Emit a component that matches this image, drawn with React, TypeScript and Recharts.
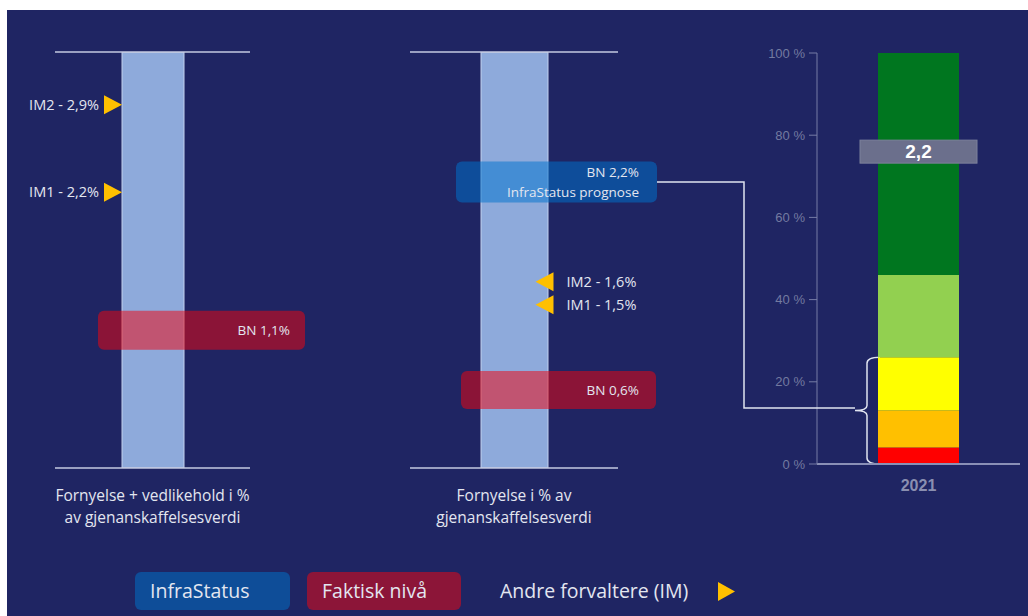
import React from 'react'
import {
  ComposedChart,
  Bar,
  XAxis,
  YAxis,
  Scatter,
  ReferenceLine,
  ReferenceArea,
} from 'recharts'

// venstre panel: fornyelse + vedlikehold
const p1Max = 3.32
const p1Markers = [
  { value: 2.9, text: 'IM2 - 2,9%' },
  { value: 2.2, text: 'IM1 - 2,2%' },
]
const p1Actual = [{ value: 1.1, text: 'BN 1,1%' }]
const p1Caption = ['Fornyelse + vedlikehold i %', 'av gjenanskaffelsesverdi']

// midtre panel: fornyelse
const p2Max = 3.2
// IM-pilene står på en egen (skjult) skala i originalen
const p2MarkerDomain = [0.79, 2.6]
const p2Markers = [
  { value: 1.6, text: 'IM2 - 1,6%' },
  { value: 1.5, text: 'IM1 - 1,5%' },
]
const p2Actual = [{ value: 0.6, text: 'BN 0,6%' }]
const p2Forecast = [{ value: 2.2, text: 'BN 2,2%', sub: 'InfraStatus prognose' }]
const p2Caption = ['Fornyelse i % av', 'gjenanskaffelsesverdi']

// høyre: tilstandsfordeling
const years = ['2021']
const redShare = [4]
const orangeShare = [9]
const yellowShare = [13]
const lightGreenShare = [20]
const darkGreenShare = [54]
const scorePos = [76]
const scoreText = ['2,2']
const yTicks = [0, 20, 40, 60, 80, 100]

const NAVY = '#1f2563'
const TXT = '#e3e6f0'
const FONT = '"Open Sans", "Noto Sans", sans-serif'

const stackData = years.map((y, i) => ({
  year: y,
  red: redShare[i],
  orange: orangeShare[i],
  yellow: yellowShare[i],
  lgreen: lightGreenShare[i],
  dgreen: darkGreenShare[i],
}))
const scoreData = years.map((y, i) => ({ year: y, pos: scorePos[i], text: scoreText[i] }))

const tri = (tipX: number, cy: number, dir: number) =>
  `${tipX - dir * 18},${cy - 9.5} ${tipX - dir * 18},${cy + 9.5} ${tipX},${cy}`

const Panel = ({ left, width, plotLeft, plotRight, max, markerDomain, barSize, markers, side, actual, forecast, caption }: any) => {
  const rows = [{ name: 'p', full: max }]
  const named = (arr: any[]) => arr.map((d) => ({ ...d, name: 'p' }))
  const half = barSize / 2

  const markerShape = (props: any) => {
    const { cx, cy, payload } = props
    if (side === 'left') {
      const tip = cx - half + 0.5
      return (
        <g>
          <polygon points={tri(tip, cy, 1)} fill="#ffc000" />
          <text x={tip - 23} y={cy} dy="0.35em" textAnchor="end" fill={TXT} fontSize={14.5} fontFamily={FONT}>
            {payload.text}
          </text>
        </g>
      )
    }
    const tip = cx + half - 12
    return (
      <g>
        <polygon points={tri(tip, cy, -1)} fill="#ffc000" />
        <text x={tip + 31} y={cy} dy="0.35em" fill={TXT} fontSize={14.5} fontFamily={FONT}>
          {payload.text}
        </text>
      </g>
    )
  }

  const boxShape = (color: string, x0: number, w: number, h: number, textEnd: number) => (props: any) => {
    const { cx, cy, payload } = props
    return (
      <g>
        <rect x={cx + x0} y={cy - h / 2} width={w} height={h} rx={6} fill={color} fillOpacity={0.52} />
        {payload.sub ? (
          <>
            <text x={cx + textEnd} y={cy - 10} dy="0.35em" textAnchor="end" fill={TXT} fontSize={13.5} fontFamily={FONT}>
              {payload.text}
            </text>
            <text x={cx + textEnd} y={cy + 10} dy="0.35em" textAnchor="end" fill={TXT} fontSize={13.5} fontFamily={FONT}>
              {payload.sub}
            </text>
          </>
        ) : (
          <text x={cx + textEnd} y={cy} dy="0.35em" textAnchor="end" fill={TXT} fontSize={13.5} fontFamily={FONT}>
            {payload.text}
          </text>
        )}
      </g>
    )
  }

  const centre = left + plotLeft + (plotRight - plotLeft) / 2
  return (
    <>
      <div style={{ position: 'absolute', left, top: 30 }}>
        <ComposedChart
          width={width}
          height={440}
          data={rows}
          margin={{ top: 22, bottom: 2, left: plotLeft, right: width - plotRight }}
        >
          <XAxis dataKey="name" hide allowDuplicatedCategory={false} />
          <YAxis type="number" domain={[0, max]} hide allowDataOverflow />
          <YAxis yAxisId="im" type="number" domain={markerDomain || [0, max]} hide allowDataOverflow />
          <Bar dataKey="full" barSize={barSize} fill="#8eaadb" stroke="#c3d1ee" strokeWidth={1} isAnimationActive={false} />
          <ReferenceLine y={max} stroke="#c5cae0" strokeWidth={1.5} />
          <ReferenceLine y={0} stroke="#c5cae0" strokeWidth={1.5} />
          <Scatter yAxisId="im" data={named(markers)} dataKey="value" shape={markerShape} isAnimationActive={false} />
          <Scatter
            data={named(actual)}
            dataKey="value"
            shape={side === 'left' ? boxShape('#f0050f', -54.5, 207, 39, 137.5) : boxShape('#f0050f', -53, 195, 38, 125)}
            isAnimationActive={false}
          />
          {forecast && (
            <Scatter
              data={named(forecast)}
              dataKey="value"
              shape={boxShape('#0073cd', -58, 201, 41, 125)}
              isAnimationActive={false}
            />
          )}
        </ComposedChart>
      </div>
      {caption.map((c: string, i: number) => (
        <div
          key={c}
          style={{
            position: 'absolute',
            left: centre - 150,
            width: 300,
            top: 485 + i * 22,
            textAlign: 'center',
            color: TXT,
            fontSize: 15.5,
            fontFamily: FONT,
            lineHeight: '20px',
          }}
        >
          {c}
        </div>
      ))}
    </>
  )
}

const braceShape = (props: any) => {
  const { x, y, height } = props
  const bx = x + 50
  const top = y
  const bot = y + height
  const mid = (top + bot) / 2
  const d = `M${bx + 13},${top} Q${bx},${top} ${bx},${top + 6} L${bx},${mid - 5} Q${bx},${mid} ${bx - 12},${mid} Q${bx},${mid} ${bx},${mid + 5} L${bx},${bot - 6} Q${bx},${bot} ${bx + 13},${bot}`
  return <path d={d} fill="none" stroke="#e0e4f0" strokeWidth={1.5} />
}

const scoreShape = (props: any) => {
  const { cx, cy, payload } = props
  return (
    <g>
      <rect x={cx - 58.5} y={cy - 11.5} width={117} height={23} fill="#6b6f8c" stroke="#7d819c" strokeWidth={1} />
      <text x={cx} y={cy} dy="0.36em" textAnchor="middle" fill="#ffffff" fontSize={19} fontWeight="bold" fontFamily='"Liberation Sans", Arial, sans-serif'>
        {payload.text}
      </text>
    </g>
  )
}

const legendBox = (left: number, width: number, bg: string, text: string) => (
  <div
    style={{
      position: 'absolute',
      left,
      top: 572,
      width,
      height: 38,
      borderRadius: 6,
      background: bg,
      color: TXT,
      fontFamily: FONT,
      fontSize: 19.5,
      lineHeight: '38px',
      paddingLeft: 15,
      boxSizing: 'border-box',
    }}
  >
    {text}
  </div>
)

export default function App() {
  return (
    <div style={{ position: 'relative', width: 1028, height: 616, background: '#fff', overflow: 'hidden' }}>
      <style>{'body{margin:0}'}</style>
      <div style={{ position: 'absolute', left: 7, top: 10, right: 0, bottom: 0, background: NAVY }} />

      <Panel
        left={0}
        width={330}
        plotLeft={55}
        plotRight={250}
        max={p1Max}
        barSize={62}
        markers={p1Markers}
        side="left"
        actual={p1Actual}
        caption={p1Caption}
      />
      <Panel
        left={360}
        width={330}
        plotLeft={50}
        plotRight={258}
        max={p2Max}
        markerDomain={p2MarkerDomain}
        barSize={67}
        markers={p2Markers}
        side="right"
        actual={p2Actual}
        forecast={p2Forecast}
        caption={p2Caption}
      />

      <div style={{ position: 'absolute', left: 740, top: 30 }}>
        <ComposedChart width={288} height={464} data={stackData} margin={{ top: 23, right: 8, left: 0, bottom: 0 }}>
          <XAxis
            dataKey="year"
            allowDuplicatedCategory={false}
            axisLine={{ stroke: '#8a90b6', strokeWidth: 2 }}
            tickLine={false}
            tickMargin={10}
            height={30}
            tick={{ fill: '#8a8fb0', fontSize: 16, fontWeight: 'bold', fontFamily: '"Liberation Sans", Arial, sans-serif' }}
          />
          <YAxis
            type="number"
            domain={[0, 100]}
            ticks={yTicks}
            tickFormatter={(v: number) => `${v} %`}
            width={77}
            tickSize={8}
            tickMargin={4}
            axisLine={{ stroke: '#767ca6' }}
            tickLine={{ stroke: '#767ca6' }}
            tick={{ fill: '#737aa0', fontSize: 13, fontFamily: '"Liberation Sans", Arial, sans-serif' }}
          />
          <Bar dataKey="red" stackId="a" barSize={81} fill="#ff0000" isAnimationActive={false} />
          <Bar dataKey="orange" stackId="a" barSize={81} fill="#ffc000" isAnimationActive={false} />
          <Bar dataKey="yellow" stackId="a" barSize={81} fill="#ffff00" isAnimationActive={false} />
          <Bar dataKey="lgreen" stackId="a" barSize={81} fill="#92d050" isAnimationActive={false} />
          <Bar dataKey="dgreen" stackId="a" barSize={81} fill="#00761f" isAnimationActive={false} />
          <ReferenceArea y1={0} y2={redShare[0] + orangeShare[0] + yellowShare[0]} shape={braceShape} />
          <Scatter data={scoreData} dataKey="pos" shape={scoreShape} isAnimationActive={false} />
        </ComposedChart>
      </div>

      {/* kobling fra prognoseboks til klammen */}
      <svg style={{ position: 'absolute', left: 0, top: 0, pointerEvents: 'none' }} width={1028} height={616}>
        <path d="M657,182 H744 V408 H855" fill="none" stroke="#dfe3ef" strokeWidth={1.5} />
      </svg>

      {legendBox(135, 155, '#0e4d98', 'InfraStatus')}
      {legendBox(307, 154, '#8c1538', 'Faktisk nivå')}
      <div style={{ position: 'absolute', left: 500, top: 572, lineHeight: '38px', color: TXT, fontFamily: FONT, fontSize: 19.5 }}>
        Andre forvaltere (IM)
      </div>
      <svg style={{ position: 'absolute', left: 716, top: 580 }} width={22} height={24}>
        <polygon points="2,2 2,21 19,11.5" fill="#ffc000" />
      </svg>
    </div>
  )
}
